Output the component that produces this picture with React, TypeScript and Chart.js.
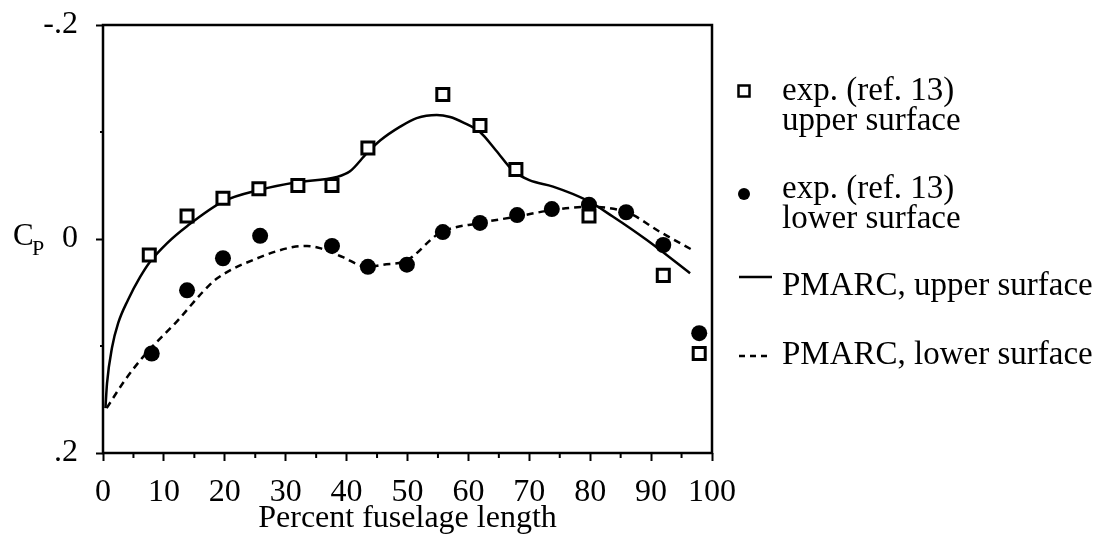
import React, { useEffect, useRef } from 'react';
import { Chart, registerables } from 'chart.js';
Chart.register(...registerables);

// Experimental data (ref. 13)
const upperExpX = [7.6, 13.8, 19.7, 25.6, 32.0, 37.6, 43.5, 55.8, 61.9, 67.8, 79.8, 92.0, 97.9];
const upperExpCp = [0.015, -0.0215, -0.038, -0.047, -0.05, -0.05, -0.085, -0.135, -0.106, -0.065, -0.0215, 0.034, 0.107];
const lowerExpX = [8.0, 13.8, 19.7, 25.8, 37.6, 43.5, 49.9, 55.8, 61.9, 68.0, 73.7, 79.8, 85.9, 92.0, 97.9];
const lowerExpCp = [0.107, 0.048, 0.018, -0.003, 0.0065, 0.026, 0.024, -0.0065, -0.015, -0.0224, -0.028, -0.032, -0.025, 0.0056, 0.088];

// PMARC predictions
const upperPmarcX = [0.4, 0.66, 1.5, 2.5, 4.1, 6.1, 7.7, 10.5, 13.8, 19.7, 25.8, 31.8, 38.4, 40.5, 43.3, 45.5, 48.8, 51.5, 54.8, 57, 59.1, 61.9, 64.5, 67.3, 70, 73.9, 79.5, 83.7, 89.3, 96.4];
const upperPmarcCp = [0.158, 0.135, 0.101, 0.0785, 0.057, 0.0355, 0.0215, 0.004, -0.012, -0.035, -0.046, -0.053, -0.058, -0.063, -0.08, -0.092, -0.105, -0.113, -0.116, -0.114, -0.109, -0.1, -0.083, -0.064, -0.055, -0.049, -0.036, -0.021, 0.001, 0.032];
const lowerPmarcX = [0.6, 3.6, 6.9, 12.3, 16.3, 18.7, 25.8, 31.2, 33.5, 35.6, 39.4, 43.3, 46, 49.9, 55.3, 61.9, 68, 73.7, 79.5, 86, 91.5, 96.7];
const lowerPmarcCp = [0.158, 0.132, 0.108, 0.076, 0.05, 0.037, 0.017, 0.0075, 0.0065, 0.0085, 0.017, 0.026, 0.024, 0.02, -0.0056, -0.015, -0.021, -0.027, -0.03, -0.025, -0.0065, 0.01];

const yTickLabels: Record<string, string> = { '-0.2': '-.2', '0': '0', '0.2': '.2' };
const xTitle = 'Percent fuselage length';
const legendLabels = [
  ['exp. (ref. 13)', 'upper surface'],
  ['exp. (ref. 13)', 'lower surface'],
  ['PMARC, upper surface'],
  ['PMARC, lower surface'],
];

const FONT = "'Liberation Serif', 'DejaVu Serif', serif";

const zip = (xs: number[], ys: number[]) => xs.map((x, i) => ({ x, y: ys[i] }));

const isMajorX = (v: number) => Math.abs(v % 10) < 1e-9;
const isMajorY = (v: number) => Math.abs(Math.abs(v) - 0.2) < 1e-9 || Math.abs(v) < 1e-9;

const decorPlugin = {
  id: 'decor',
  afterDraw(chart: any) {
    const { ctx, chartArea } = chart;
    const xs = chart.scales.x;
    const ys = chart.scales.y;
    ctx.save();
    // frame
    ctx.strokeStyle = '#000';
    ctx.lineWidth = 2.5;
    ctx.strokeRect(chartArea.left, chartArea.top, chartArea.right - chartArea.left, chartArea.bottom - chartArea.top);
    // minor ticks
    ctx.lineWidth = 2;
    ctx.beginPath();
    for (let v = 5; v < 100; v += 10) {
      const px = xs.getPixelForValue(v);
      ctx.moveTo(px, chartArea.bottom);
      ctx.lineTo(px, chartArea.bottom + 5);
    }
    [-0.1, 0.1].forEach((v) => {
      const py = ys.getPixelForValue(v);
      ctx.moveTo(chartArea.left, py);
      ctx.lineTo(chartArea.left - 3, py);
    });
    ctx.stroke();

    // C_P label
    ctx.fillStyle = '#000';
    ctx.textBaseline = 'alphabetic';
    ctx.textAlign = 'left';
    ctx.font = `31px ${FONT}`;
    ctx.fillText('C', 13, 245);
    ctx.font = `22px ${FONT}`;
    ctx.fillText('P', 32, 255);

    // legend
    const mx = 744;
    const tx = 782;
    ctx.font = `33px ${FONT}`;
    // item 1: open square
    ctx.lineWidth = 2.5;
    ctx.strokeStyle = '#000';
    ctx.fillStyle = '#fff';
    ctx.fillRect(mx - 5.5, 91 - 5.5, 11, 11);
    ctx.strokeRect(mx - 5.5, 91 - 5.5, 11, 11);
    ctx.fillStyle = '#000';
    ctx.fillText(legendLabels[0][0], tx, 100);
    ctx.fillText(legendLabels[0][1], tx, 130);
    // item 2: filled circle
    ctx.beginPath();
    ctx.arc(mx, 194, 6, 0, Math.PI * 2);
    ctx.fill();
    ctx.fillText(legendLabels[1][0], tx, 198);
    ctx.fillText(legendLabels[1][1], tx, 228);
    // item 3: solid line
    ctx.beginPath();
    ctx.setLineDash([]);
    ctx.moveTo(739, 277);
    ctx.lineTo(772, 277);
    ctx.stroke();
    ctx.fillText(legendLabels[2][0], tx, 295);
    // item 4: dashed
    ctx.beginPath();
    ctx.setLineDash([6, 5]);
    ctx.moveTo(739, 356);
    ctx.lineTo(772, 356);
    ctx.stroke();
    ctx.setLineDash([]);
    ctx.fillText(legendLabels[3][0], tx, 364);
    ctx.restore();
  },
};

export default function App() {
  const ref = useRef<HTMLCanvasElement | null>(null);
  useEffect(() => {
    if (!ref.current) return;
    const chart = new Chart(ref.current, {
      type: 'scatter',
      data: {
        datasets: [
          {
            label: 'exp. upper',
            data: zip(upperExpX, upperExpCp),
            showLine: false,
            pointStyle: 'rect',
            pointRadius: 8.5,
            pointBackgroundColor: '#fff',
            pointBorderColor: '#000',
            pointBorderWidth: 3,
          },
          {
            label: 'exp. lower',
            data: zip(lowerExpX, lowerExpCp),
            showLine: false,
            pointStyle: 'circle',
            pointRadius: 8,
            pointBackgroundColor: '#000',
            pointBorderColor: '#000',
            pointBorderWidth: 0,
          },
          {
            label: 'PMARC upper',
            data: zip(upperPmarcX, upperPmarcCp),
            showLine: true,
            pointRadius: 0,
            borderColor: '#000',
            borderWidth: 2.5,
            cubicInterpolationMode: 'monotone',
          },
          {
            label: 'PMARC lower',
            data: zip(lowerPmarcX, lowerPmarcCp),
            showLine: true,
            pointRadius: 0,
            borderColor: '#000',
            borderWidth: 2.5,
            borderDash: [7, 5],
            cubicInterpolationMode: 'monotone',
          },
        ],
      },
      options: {
        animation: false,
        responsive: true,
        maintainAspectRatio: false,
        layout: { padding: { left: 0, top: 25, right: 391, bottom: 0 } },
        plugins: { legend: { display: false }, tooltip: { enabled: false } },
        scales: {
          x: {
            type: 'linear',
            min: 0,
            max: 100,
            afterFit: (s: any) => { s.height = 93; s.paddingLeft = 0; s.paddingRight = 0; },
            ticks: {
              stepSize: 5,
              autoSkip: false,
              maxRotation: 0,
              color: '#000',
              padding: 12,
              font: { family: FONT, size: 32 },
              callback: (v: any) => (isMajorX(Number(v)) ? String(v) : ''),
            },
            grid: {
              drawOnChartArea: false,
              drawTicks: true,
              tickLength: 8,
              tickWidth: 2,
              tickColor: (c: any) => (c.tick && isMajorX(c.tick.value) ? '#000' : 'rgba(0,0,0,0)'),
            },
            border: { display: false },
            title: {
              display: true,
              text: xTitle,
              color: '#000',
              font: { family: FONT, size: 32 },
              padding: { top: 0, bottom: 8 },
            },
          },
          y: {
            type: 'linear',
            reverse: true,
            min: -0.2,
            max: 0.2,
            afterFit: (s: any) => { s.width = 103; s.paddingTop = 0; s.paddingBottom = 0; },
            ticks: {
              stepSize: 0.1,
              autoSkip: false,
              color: '#000',
              padding: 18,
              font: { family: FONT, size: 32 },
              callback: (v: any) => {
                const n = Math.round(Number(v) * 10) / 10;
                return yTickLabels[String(n)] ?? '';
              },
            },
            grid: {
              drawOnChartArea: false,
              drawTicks: true,
              tickLength: 7,
              tickWidth: 2,
              tickColor: (c: any) => (c.tick && isMajorY(c.tick.value) ? '#000' : 'rgba(0,0,0,0)'),
            },
            border: { display: false },
          },
        },
      },
      plugins: [decorPlugin],
    } as any);
    return () => chart.destroy();
  }, []);
  return (
    <div style={{ position: 'fixed', left: 0, top: 0, width: 1103, height: 546, background: '#fff' }}>
      <canvas ref={ref} />
    </div>
  );
}
